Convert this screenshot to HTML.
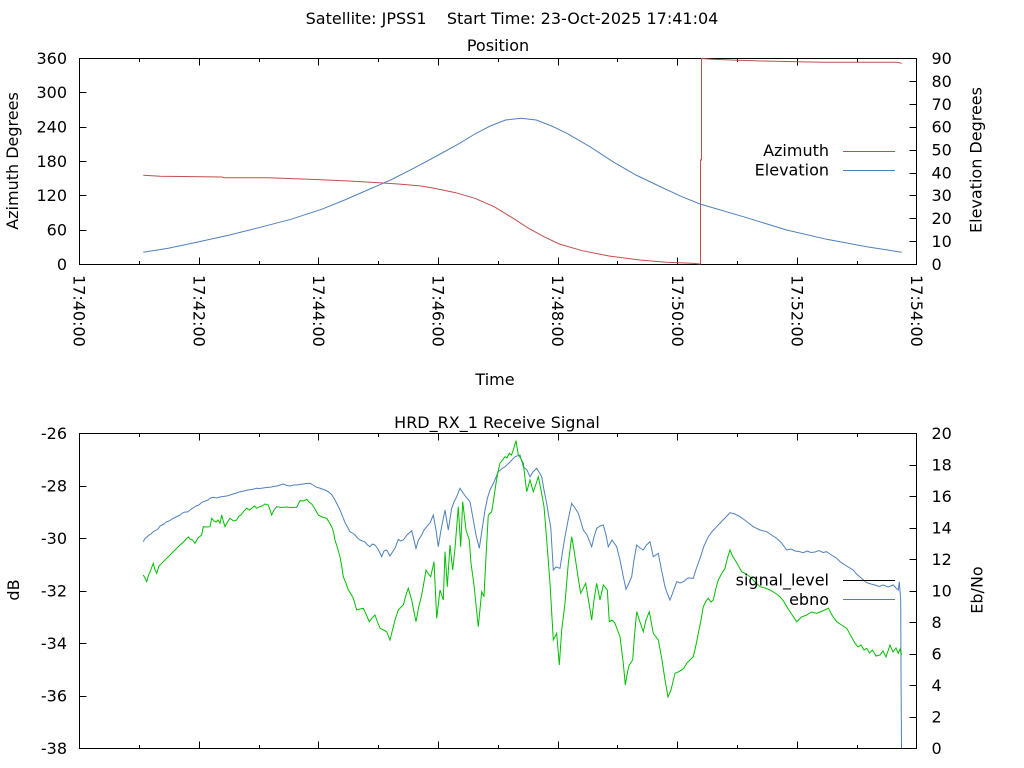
<!DOCTYPE html>
<html>
<head>
<meta charset="utf-8">
<style>
html,body{margin:0;padding:0;background:#fff;}
svg{display:block;}
text{font-family:"DejaVu Sans","Liberation Sans",sans-serif;font-size:16px;fill:#000;}
</style>
</head>
<body>
<svg width="1024" height="768" viewBox="0 0 1024 768" xmlns="http://www.w3.org/2000/svg">
<rect width="1024" height="768" fill="#fff"/>

<!-- Titles -->
<text x="512" y="24" text-anchor="middle" xml:space="preserve">Satellite: JPSS1    Start Time: 23-Oct-2025 17:41:04</text>
<text x="498" y="51" text-anchor="middle">Position</text>
<text x="497" y="428" text-anchor="middle">HRD_RX_1 Receive Signal</text>

<!-- ===== TOP PLOT ===== -->
<g fill="none" stroke="#000" stroke-width="1" shape-rendering="crispEdges">
<rect x="79.5" y="58.5" width="837" height="206"/>
<path d="M199.5 264.5v-7M318.5 264.5v-7M438.5 264.5v-7M558.5 264.5v-7M677.5 264.5v-7M797.5 264.5v-7
M199.5 58.5v7M318.5 58.5v7M438.5 58.5v7M558.5 58.5v7M677.5 58.5v7M797.5 58.5v7
M139.5 264.5v-3.5M259.5 264.5v-3.5M378.5 264.5v-3.5M498.5 264.5v-3.5M617.5 264.5v-3.5M737.5 264.5v-3.5M857.5 264.5v-3.5
M139.5 58.5v3.5M259.5 58.5v3.5M378.5 58.5v3.5M498.5 58.5v3.5M617.5 58.5v3.5M737.5 58.5v3.5M857.5 58.5v3.5
M79.5 230.5h7M79.5 195.5h7M79.5 161.5h7M79.5 127.5h7M79.5 92.5h7
M916.5 241.5h-7M916.5 218.5h-7M916.5 195.5h-7M916.5 173.5h-7M916.5 150.5h-7M916.5 127.5h-7M916.5 104.5h-7M916.5 81.5h-7"/>
</g>

<!-- left tick labels top -->
<g text-anchor="end">
<text x="67" y="270">0</text>
<text x="67" y="235.5">60</text>
<text x="67" y="201">120</text>
<text x="67" y="167">180</text>
<text x="67" y="132.5">240</text>
<text x="67" y="98">300</text>
<text x="67" y="64">360</text>
</g>
<!-- right tick labels top -->
<g text-anchor="start">
<text x="931.5" y="270">0</text>
<text x="931.5" y="247">10</text>
<text x="931.5" y="224">20</text>
<text x="931.5" y="201">30</text>
<text x="931.5" y="178.5">40</text>
<text x="931.5" y="155.5">50</text>
<text x="931.5" y="132.5">60</text>
<text x="931.5" y="110">70</text>
<text x="931.5" y="87">80</text>
<text x="931.5" y="64">90</text>
</g>

<text transform="translate(18,161) rotate(-90)" text-anchor="middle">Azimuth Degrees</text>
<text transform="translate(981.5,160) rotate(-90)" text-anchor="middle">Elevation Degrees</text>

<!-- x tick labels -->
<g>
<text transform="translate(73.7,275) rotate(90)">17:40:00</text>
<text transform="translate(193.5,275) rotate(90)">17:42:00</text>
<text transform="translate(313,275) rotate(90)">17:44:00</text>
<text transform="translate(432.6,275) rotate(90)">17:46:00</text>
<text transform="translate(552.2,275) rotate(90)">17:48:00</text>
<text transform="translate(671.8,275) rotate(90)">17:50:00</text>
<text transform="translate(791.3,275) rotate(90)">17:52:00</text>
<text transform="translate(910.8,275) rotate(90)">17:54:00</text>
</g>
<text x="495" y="385" text-anchor="middle">Time</text>

<!-- top series -->
<polyline fill="none" stroke="#c0504d" stroke-width="1" points="143.3,175.3 160.6,176.3 221.9,177 224,177.7 267.9,177.7 302.4,179 327.3,180 348.4,181 379,182.7 398.2,184 421.2,186 436.6,188.7 455.7,192.7 474.9,198.3 494.1,206.7 513.2,218.3 528.6,228.3 543.9,236.7 559.2,244 582.2,250.7 609,256 639.7,260 666.5,262.3 691.5,263.3 700.5,264 700.5,160 701.5,160 701.5,58.5 711.7,59.3 738,60.3 775,61.3 823.3,62.3 896.7,62.3 901.7,63.3"/>
<polyline fill="none" stroke="#4f81bd" stroke-width="1" points="143.3,252.3 168.3,248.3 199,241.7 229.6,235 260.2,227.3 290.9,219.3 321.6,209.3 344.6,200 367.6,190 390.6,180 413.6,168.3 436.6,156 459.6,143.3 474.9,134 490.2,126 505.6,120 520.9,118.3 536.2,120 551.6,126 566.9,133.3 589.9,146.7 612.9,161.7 635.9,175 658.9,186 681.9,196.7 700,204 743.3,216.7 786.7,230 826.7,239.3 866.7,246.7 901.7,252.3"/>

<!-- top legend -->
<text x="829" y="156" text-anchor="end">Azimuth</text>
<text x="829" y="175.5" text-anchor="end">Elevation</text>
<line x1="843" y1="151.5" x2="895" y2="151.5" stroke="#c0504d" stroke-width="1" shape-rendering="crispEdges"/>
<line x1="843" y1="170.5" x2="895" y2="170.5" stroke="#4f81bd" stroke-width="1" shape-rendering="crispEdges"/>

<!-- ===== BOTTOM PLOT ===== -->
<g fill="none" stroke="#000" stroke-width="1" shape-rendering="crispEdges">
<rect x="79.5" y="433.5" width="837" height="315"/>
<path d="M199.5 748.5v-7M318.5 748.5v-7M438.5 748.5v-7M558.5 748.5v-7M677.5 748.5v-7M797.5 748.5v-7
M199.5 433.5v7M318.5 433.5v7M438.5 433.5v7M558.5 433.5v7M677.5 433.5v7M797.5 433.5v7
M139.5 748.5v-3.5M259.5 748.5v-3.5M378.5 748.5v-3.5M498.5 748.5v-3.5M617.5 748.5v-3.5M737.5 748.5v-3.5M857.5 748.5v-3.5
M139.5 433.5v3.5M259.5 433.5v3.5M378.5 433.5v3.5M498.5 433.5v3.5M617.5 433.5v3.5M737.5 433.5v3.5M857.5 433.5v3.5
M79.5 486.5h7M79.5 538.5h7M79.5 591.5h7M79.5 643.5h7M79.5 696.5h7
M916.5 717.5h-7M916.5 685.5h-7M916.5 654.5h-7M916.5 622.5h-7M916.5 591.5h-7M916.5 559.5h-7M916.5 528.5h-7M916.5 496.5h-7M916.5 465.5h-7"/>
</g>

<g text-anchor="end">
<text x="67" y="439">-26</text>
<text x="67" y="491.5">-28</text>
<text x="67" y="544">-30</text>
<text x="67" y="596.5">-32</text>
<text x="67" y="649">-34</text>
<text x="67" y="701.5">-36</text>
<text x="67" y="754">-38</text>
</g>
<g text-anchor="start">
<text x="931.5" y="754">0</text>
<text x="931.5" y="722.5">2</text>
<text x="931.5" y="691">4</text>
<text x="931.5" y="659.5">6</text>
<text x="931.5" y="628">8</text>
<text x="931.5" y="596.5">10</text>
<text x="931.5" y="565">12</text>
<text x="931.5" y="533.5">14</text>
<text x="931.5" y="502">16</text>
<text x="931.5" y="470.5">18</text>
<text x="931.5" y="439">20</text>
</g>

<text transform="translate(19,590) rotate(-90)" text-anchor="middle">dB</text>
<text transform="translate(982.5,590) rotate(-90)" text-anchor="middle">Eb/No</text>

<!-- bottom series -->
<polyline fill="none" stroke="#4f81bd" stroke-width="1" points="143.3,541.7 145,538.3 147,537 149,535 151,534 153.3,531.7 155.5,530.5 158,529 160,526 162,525 164,524 166.7,521.7 169,521 172,519 174,518 176,517 178,516 180,515 182.5,513 185,512 187.5,512 190,510 193,508 196,506 199,505 201,503 203.3,501.7 205.5,501 208,500 210.5,498 213.3,497.3 216.5,498 220,497 223,496.5 226.7,496 230,495 233,494 236.5,493 240,491.7 244,491 248,490 252,489.5 256.7,488.3 260,488.5 263,488 266.5,487.5 270,487.3 273.5,486.5 277,486 280,485 283.3,484 287,485.5 290,486 293.5,485 296.7,485 300,484.5 303,484 306.5,483.5 310,483.3 313,485 316.7,487.3 319.5,488 322,489 325,490 328.3,491.7 332,495 335,500 337.5,505 340,510 342.5,516 345,522.7 347.5,527 350,531.7 352.5,533 355,535 357.5,538 360,540 362.5,541 365,542 367.5,545 370,546.7 372.5,544 375,545 378,549 381.7,556.7 384,551 386.7,550 390,556 392.5,552 395,548.3 398.3,539.3 400.5,541 403.3,540 407,535 411.7,530.7 416,548.3 418.5,540 421.7,535 424,530 426.7,526.7 430,523 433.3,515 436,530 438.3,546.7 441,530 445,510 448.3,530 451.7,508.3 454,502 456.7,496.7 460,488.3 463.3,493.3 466,497 470,501.7 473.3,520 476,535 479.3,548.3 482,530 485,510 487.5,498 490,490 494,482 498.3,471.7 501.5,469 505,466.7 510,462 515,456.7 520,455 523.3,466.7 527,470 530,476.7 533,472 536.7,468.3 539,472 541.7,476.7 544,490 546.7,503.3 548.5,515 550.7,526.7 552,548 553.3,570 556,567 560,568.3 562.5,552 565,536.7 568.5,518 571.7,503.3 575,508 578.3,513.3 581,522 583.3,530 587,535 591.7,546.7 594,537 596.7,528.3 600,526 603.3,525 606,535 608.3,546.7 612,540 616.7,546.7 620,560 623.3,576.7 626,589.3 629,583 631.7,576.7 634,560 636.7,545 640,548 643.3,550 646.5,545 650,541.7 653.3,556.7 658.3,553.3 661.5,570 665,586.7 667.5,594 670,600 673,592 676.7,581.7 680,583 683.3,581.7 688,578 693.3,578.3 696.5,568 700,558.3 704,546 708.3,536.7 712.5,531 716.7,526.7 722,521 726,517 730,512.7 735,514 740,516.7 746,521 753.3,526.7 760,530 766.7,531.7 771.5,535 776.7,538.3 781.5,543 786.7,550 791,549 795,551 799,551.5 803.3,552.7 807,551 811,552.5 815,552 819,550.5 823,552.5 826.7,551.7 830,554 833,556 836.5,558 840,561.7 846.5,566 853.3,570 856.5,574 860,577 863.5,580 866.7,582.7 871,584 875,585 879,586.5 883.3,585 888,587 893.3,585 896,588 898.3,590 899.3,581.7 900.7,600 901,672 901.5,748"/>
<polyline fill="none" stroke="#00c000" stroke-width="1" points="143.3,575 145,578 146.7,581.7 148.5,575 150,572 151.5,568 153.3,563.3 155,570 156.7,573.3 159,566 161.7,563.3 164,561 166.7,558.3 169,556 172,553 174,551 176,549 178,547 180,545 183.5,542 186.7,538.3 188.5,537 190,539 192.5,540 195,543.3 198,538 201.7,535 203.3,526.7 206.5,527 210,526.7 211.7,518.3 214,521 216,522 218,520 220,523.3 221.7,515 223.5,522 225,526.7 227.5,522 230,518.3 233.5,521 236.7,520 239,516 241,515 244,511 246.7,508.3 249.5,510 252,508 254.5,506 256.7,508.3 259,507 262,506 265,504 268.3,505 271.7,515 274,510 276.7,506.7 281,507.5 286,507 291,507.5 296.7,507.3 300,500.7 303.5,501 306.7,499.3 309,502 311.7,504 315,509 318.3,515 322,517 326.7,518.3 329,522 331.7,526.7 333.5,532 335,540 337.5,548 340,556.7 341.5,565 343.3,576.7 346,583 348.3,590 351,594 353.3,598.3 355,604 356.7,610 360,609 363.3,608.3 366,614 369.3,621.7 372,618 375,615 377.5,622 380,628.3 383.5,630 386.7,631.7 390,640 392.5,630 395,620 398.3,610 401,607 403.3,605 406,595 408.3,588.3 411.7,600 414,612 416,621.7 418.5,608 421.7,595 424,582 426,570 428.5,574 430.7,576.7 434,561.7 436.7,618.3 440,590 443.3,600 445,551.7 447.3,586.7 450,545 452.7,570 455,548.3 458.3,506.7 460.7,546.7 462.7,501.7 466,530 469.3,540 471,563.3 474,585 476,605 478.3,626.7 481.7,591.7 484,596.7 486,556.7 488.3,515 491.7,511.7 494,497 496,483.3 498,472 500,463.3 502.5,460 505,456.7 507,458 509.3,453.3 511.5,455 513.3,450 516,440.7 518.3,455 520.5,458 523.3,463.3 525,478 526.7,491.7 530,480 533.3,491.7 536,484 538.3,476.7 541,490 544,506.7 546.7,540 550,583.3 553.3,640 556.7,633.3 559.3,665 561.7,630 565,603.3 568.3,563.3 571.7,536.7 574,550 576,563.3 578.5,580 580.7,593.3 585.7,583.3 589,603.3 591.7,620 594,600 596.7,583.3 600,600 603.3,585 607.3,590 609.3,621.7 612,620 615,623.3 617.5,630 620,636.7 623.3,663.3 625.3,685 627.5,672 629.3,665 632.7,660 634.5,635 636.7,611.7 640,622 643.3,631.7 646,620 649.3,611.7 653.3,633.3 658.3,640 662,660 665,680 668,697 671,690 675,673.3 678,672 681.7,670 684,668 686.7,663.3 690,660 693.3,656.7 696,645 698.3,633.3 701,620 703.3,606.7 706,601 708.3,598.3 711,602 713.3,600 716,588 718.3,580 722,573 725,568.3 727.5,558 730,550 732.5,556 735,560 738.5,566 741.7,571.7 746,574 750,576.7 755,582 760,586.7 765,588 770,590 775,593 780,596.7 783.5,601 786.7,606.7 791.5,614 796.7,621.7 801.5,617 806.7,615 811.5,612 816.7,613.3 822.5,611 828.3,608.3 832.5,616 836.7,621.7 841.5,625 846.7,628.3 851,636 855,643.3 858,647 861,645 864,650 866.7,648.3 869.5,653 872.5,650 876,656 880,655 883,651 886,657 890,645 893,652 896,648 898.3,653.3 900,649 901.7,655"/>

<!-- bottom legend -->
<text x="829" y="585.5" text-anchor="end">signal_level</text>
<text x="829" y="605" text-anchor="end">ebno</text>
<line x1="843" y1="580.5" x2="895" y2="580.5" stroke="#000" stroke-width="1" shape-rendering="crispEdges"/>
<line x1="843" y1="599.5" x2="895" y2="599.5" stroke="#4f81bd" stroke-width="1" shape-rendering="crispEdges"/>
</svg>
</body>
</html>
